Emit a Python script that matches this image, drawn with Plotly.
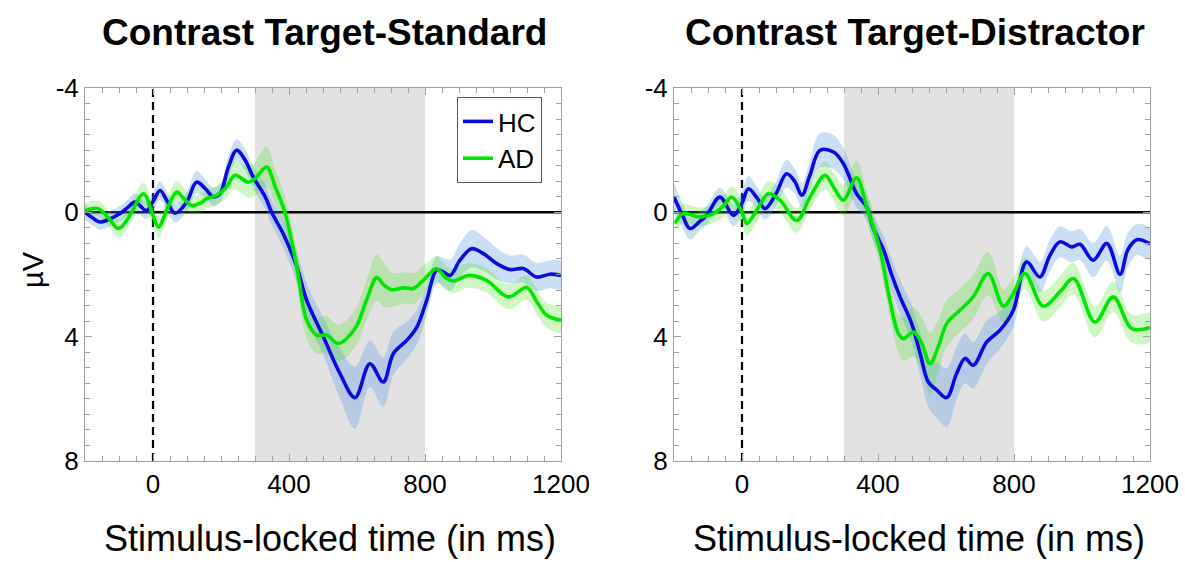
import plotly.graph_objects as go

# ---------------- data (µV, time in ms) ----------------
# Left panel: Contrast Target-Standard
ts_hc_t = [-200, -175, -156, -125, -97, -75, -53, -19, 0, 21, 40, 65, 99, 128, 155, 177, 197, 222, 246, 270,
           295, 330, 349, 383, 423, 452, 501, 550, 594, 638, 677, 707, 746, 776, 805, 834, 854, 874, 903, 937,
           972, 1011, 1050, 1089, 1128, 1168, 1200]
ts_hc_v = [0.0, 0.2, 0.31, 0.2, 0.04, -0.15, -0.33, -0.06, -0.35, -0.7, -0.39, 0.03, -0.33, -0.97, -0.75, -0.5,
           -0.6, -1.46, -2.0, -1.7, -1.13, -0.5, 0.0, 0.69, 1.75, 2.83, 4.0, 5.19, 5.96, 4.87, 5.46, 4.54, 4.12,
           3.69, 2.83, 1.86, 1.92, 2.03, 1.54, 1.17, 1.33, 1.65, 1.84, 1.81, 2.08, 1.99, 2.03]
ts_hc_se = [0.25, 0.25, 0.25, 0.25, 0.25, 0.25, 0.28, 0.28, 0.3, 0.3, 0.3, 0.3, 0.3, 0.35, 0.3, 0.3,
            0.3, 0.35, 0.35, 0.35, 0.35, 0.4, 0.4, 0.45, 0.5, 0.55, 0.6, 0.8, 1.0, 0.75, 0.8, 0.7, 0.6,
            0.55, 0.5, 0.45, 0.45, 0.5, 0.55, 0.6, 0.55, 0.5, 0.45, 0.45, 0.45, 0.45, 0.45]

ts_ad_t = [-200, -161, -130, -102, -80, -63, -28, 0, 16, 45, 70, 90, 114, 140, 158, 187, 215, 241, 280, 300,
           334, 360, 388, 423, 452, 481, 511, 545, 594, 628, 658, 680, 702, 736, 766, 800, 834, 860, 884, 928,
           981, 1045, 1099, 1130, 1158, 1200]
ts_ad_v = [-0.05, -0.12, 0.2, 0.52, 0.3, 0.0, -0.6, 0.1, 0.47, -0.2, -0.65, -0.45, -0.22, -0.3, -0.44, -0.55,
           -0.8, -1.19, -0.97, -1.08, -1.46, -0.8, 0.0, 1.76, 3.47, 3.95, 3.95, 4.22, 3.74, 2.83, 2.1, 2.35,
           2.49, 2.43, 2.45, 2.13, 1.81, 2.1, 2.21, 2.03, 2.19, 2.72, 2.42, 2.9, 3.31, 3.47]
ts_ad_se = [0.25, 0.25, 0.25, 0.3, 0.3, 0.3, 0.35, 0.35, 0.35, 0.35, 0.35, 0.35, 0.3, 0.3, 0.3, 0.3,
            0.35, 0.45, 0.5, 0.55, 0.65, 0.55, 0.5, 0.55, 0.6, 0.6, 0.6, 0.6, 0.6, 0.65, 0.75, 0.7,
            0.55, 0.5, 0.5, 0.45, 0.4, 0.4, 0.4, 0.4, 0.4, 0.4, 0.4, 0.4, 0.4, 0.4]

# Right panel: Contrast Target-Distractor
td_hc_t = [-200, -175, -153, -125, -104, -65, -25, 0, 19, 45, 68, 100, 131, 155, 176, 200, 229, 269, 298, 337,
           367, 386, 416, 440, 465, 499, 524, 548, 573, 602, 631, 656, 680, 720, 759, 798, 837, 876, 905, 935,
           970, 994, 1033, 1073, 1112, 1135, 1161, 1200]
td_hc_v = [-0.49, 0.1, 0.52, 0.3, 0.1, -0.49, 0.1, -0.3, -0.76, -0.45, -0.12, -0.6, -1.24, -1.0, -0.55, -1.2,
           -1.99, -1.94, -1.57, -0.6, -0.17, 0.5, 1.2, 2.0, 2.72, 3.58, 4.54, 5.46, 5.72, 5.96, 5.19, 4.7,
           4.92, 4.17, 3.79, 3.15, 1.6, 2.08, 1.4, 0.95, 1.11, 1.03, 1.54, 1.0, 1.99, 1.2, 0.88, 1.01]
td_hc_se = [0.45, 0.4, 0.35, 0.3, 0.3, 0.3, 0.35, 0.4, 0.4, 0.35, 0.35, 0.4, 0.45, 0.4, 0.4, 0.45,
            0.55, 0.55, 0.5, 0.45, 0.4, 0.4, 0.45, 0.5, 0.55, 0.6, 0.7, 0.8, 0.9, 0.95, 0.85, 0.8,
            0.75, 0.7, 0.6, 0.55, 0.5, 0.5, 0.5, 0.5, 0.5, 0.5, 0.55, 0.55, 0.6, 0.55, 0.5, 0.5]

td_ad_t = [-197, -173, -124, -84, -55, -30, 0, 14, 45, 78, 112, 161, 200, 244, 270, 298, 337, 367, 406, 435,
           460, 475, 504, 529, 553, 577, 602, 641, 680, 724, 769, 798, 832, 886, 935, 975, 1038, 1092, 1146, 1200]
td_ad_v = [0.36, 0.04, 0.15, 0.04, -0.2, -0.49, 0.0, 0.36, -0.1, -0.6, -0.39, 0.26, -0.49, -1.19, -0.8,
           -0.39, -1.11, -0.17, 1.22, 2.83, 3.9, 4.06, 3.85, 4.22, 4.87, 4.33, 3.58, 3.15, 2.72, 1.97, 3.02,
           2.61, 1.97, 3.02, 2.56, 2.13, 3.53, 2.72, 3.74, 3.71]
td_ad_se = [0.3, 0.3, 0.3, 0.3, 0.35, 0.35, 0.4, 0.4, 0.4, 0.4, 0.4, 0.4, 0.4, 0.45, 0.45, 0.5, 0.55,
            0.5, 0.5, 0.55, 0.6, 0.7, 0.8, 0.85, 1.0, 0.85, 0.75, 0.7, 0.7, 0.7, 0.55, 0.5, 0.5, 0.5,
            0.5, 0.5, 0.5, 0.5, 0.45, 0.45]

titles = ["Contrast Target-Standard", "Contrast Target-Distractor"]
x_title = "Stimulus-locked time (in ms)"
y_title = "µV"
x_ticks = [0, 400, 800, 1200]
y_ticks = [-4, 0, 4, 8]
window = [300, 800]

# ---------------- styling ----------------
BLUE = "#0a0ae0"
GREEN = "#00e600"
BLUE_BAND = "rgba(80,150,230,0.30)"
GREEN_BAND = "rgba(60,225,20,0.25)"
FONT = "Liberation Sans, Arial, sans-serif"

W, H = 1185, 562
dom_left = [85 / W, 561 / W]
dom_right = [674 / W, 1150 / W]
dom_y = [1 - 461 / H, 1 - 88 / H]

fig = go.Figure()

panels = [
    ("x", "y", ts_hc_t, ts_hc_v, ts_hc_se, ts_ad_t, ts_ad_v, ts_ad_se, True),
    ("x2", "y2", td_hc_t, td_hc_v, td_hc_se, td_ad_t, td_ad_v, td_ad_se, False),
]


def band(t, v, se, color, xa, ya):
    up = [a - b for a, b in zip(v, se)]
    lo = [a + b for a, b in zip(v, se)]
    return go.Scatter(x=list(t) + list(t)[::-1], y=up + lo[::-1], fill="toself", fillcolor=color,
                      line=dict(width=0, shape="spline", smoothing=1.0), mode="lines",
                      hoverinfo="skip", showlegend=False, xaxis=xa, yaxis=ya)


for xa, ya, ht, hv, hse, at, av, ase, leg in panels:
    fig.add_trace(band(ht, hv, hse, BLUE_BAND, xa, ya))
    fig.add_trace(band(at, av, ase, GREEN_BAND, xa, ya))
    fig.add_trace(go.Scatter(x=ht, y=hv, mode="lines", name="HC",
                             line=dict(color=BLUE, width=3.6, shape="spline", smoothing=1.0),
                             showlegend=leg, xaxis=xa, yaxis=ya))
    fig.add_trace(go.Scatter(x=at, y=av, mode="lines", name="AD",
                             line=dict(color=GREEN, width=3.6, shape="spline", smoothing=1.0),
                             showlegend=leg, xaxis=xa, yaxis=ya))

shapes = []
for xa, ya in [("x", "y"), ("x2", "y2")]:
    shapes.append(dict(type="rect", xref=xa, yref=ya + " domain", x0=window[0], x1=window[1], y0=0, y1=1,
                       fillcolor="#e2e2e2", line=dict(width=0), layer="below"))
    shapes.append(dict(type="line", xref=xa + " domain", yref=ya, x0=0, x1=1, y0=0, y1=0,
                       line=dict(color="black", width=2.5), layer="below"))
    shapes.append(dict(type="line", xref=xa, yref=ya + " domain", x0=0, x1=0, y0=0, y1=1,
                       line=dict(color="black", width=2.2, dash="8px,5px"), layer="below"))

axis_common = dict(showline=True, linecolor="#a0a0a0", linewidth=1, mirror="ticks", ticks="inside",
                   tickcolor="#a0a0a0", ticklen=7, showgrid=False, zeroline=False, automargin=False,
                   tickfont=dict(family=FONT, size=26, color="black"))

xaxis_kw = dict(range=[-200, 1200], tickvals=x_ticks, ticktext=[str(v) for v in x_ticks],
                minor=dict(dtick=50, tick0=0, ticks="inside", ticklen=5, tickcolor="#a0a0a0"), **axis_common)
yaxis_kw = dict(range=[8, -4], tickvals=y_ticks, ticktext=[str(v) for v in y_ticks],
                minor=dict(dtick=0.5, tick0=0, ticks="inside", ticklen=5, tickcolor="#a0a0a0"), **axis_common)

annotations = [
    dict(text="<b>" + titles[0] + "</b>", x=324 / W, y=1 - 32 / H, xref="paper", yref="paper",
         showarrow=False, font=dict(family=FONT, size=37, color="black"), xanchor="center", yanchor="middle"),
    dict(text="<b>" + titles[1] + "</b>", x=915 / W, y=1 - 32 / H, xref="paper", yref="paper",
         showarrow=False, font=dict(family=FONT, size=37, color="black"), xanchor="center", yanchor="middle"),
    dict(text=x_title, x=330 / W, y=1 - 538 / H, xref="paper", yref="paper", showarrow=False,
         font=dict(family=FONT, size=36, color="black"), xanchor="center", yanchor="middle"),
    dict(text=x_title, x=919 / W, y=1 - 538 / H, xref="paper", yref="paper", showarrow=False,
         font=dict(family=FONT, size=36, color="black"), xanchor="center", yanchor="middle"),
    dict(text=y_title, x=33 / W, y=1 - 270 / H, xref="paper", yref="paper", showarrow=False, textangle=-90,
         font=dict(family=FONT, size=29, color="black"), xanchor="center", yanchor="middle"),
]

fig.update_layout(
    width=W, height=H, margin=dict(l=0, r=0, t=0, b=0, autoexpand=False),
    paper_bgcolor="white", plot_bgcolor="white",
    xaxis=dict(domain=dom_left, anchor="y", **xaxis_kw),
    yaxis=dict(domain=dom_y, anchor="x", **yaxis_kw),
    xaxis2=dict(domain=dom_right, anchor="y2", **xaxis_kw),
    yaxis2=dict(domain=dom_y, anchor="x2", **yaxis_kw),
    shapes=shapes, annotations=annotations,
    legend=dict(x=457 / W, y=1 - 97 / H, xanchor="left", yanchor="top", bgcolor="white",
                bordercolor="#555555", borderwidth=1, font=dict(family=FONT, size=26, color="black"),
                tracegroupgap=0, itemwidth=30),
    showlegend=True,
)

fig.write_html("out.html")
